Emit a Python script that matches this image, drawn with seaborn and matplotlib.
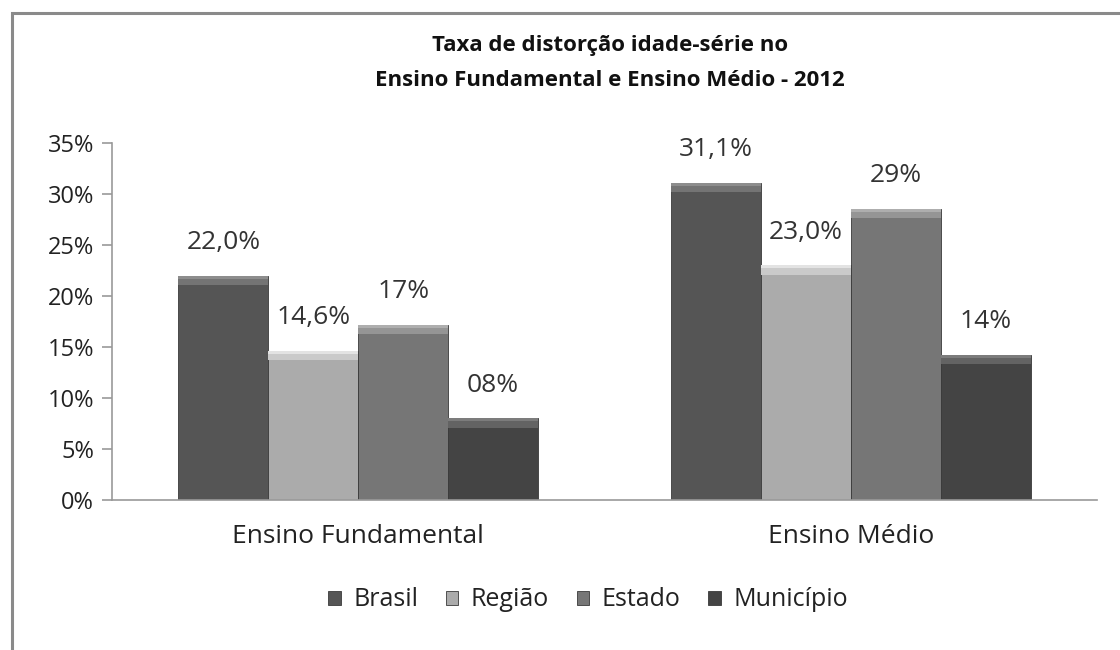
import matplotlib
matplotlib.use("Agg")
import matplotlib.pyplot as plt
import matplotlib.patches as mpatches
import seaborn as sns
import pandas as pd
import numpy as np

categories = ["Ensino Fundamental", "Ensino Médio"]
series = ["Brasil", "Região", "Estado", "Município"]
brasil = [22.0, 31.1]
regiao = [14.6, 23.0]
estado = [17.2, 28.5]
municipio = [8.0, 14.2]
labels = {
    "Brasil": ["22,0%", "31,1%"],
    "Região": ["14,6%", "23,0%"],
    "Estado": ["17%", "29%"],
    "Município": ["08%", "14%"],
}
colors = ["#555555", "#ababab", "#767676", "#444444"]
yticks = [0, 5, 10, 15, 20, 25, 30, 35]

rows = []
for s, vals in zip(series, [brasil, regiao, estado, municipio]):
    for c, v in zip(categories, vals):
        rows.append({"cat": c, "serie": s, "val": v})
df = pd.DataFrame(rows)

sns.set_style("white")
plt.rcParams["font.family"] = ["Open Sans", "DejaVu Sans"]

W, H = 1120, 650
fig = plt.figure(figsize=(11.2, 6.5), dpi=100)
ax = fig.add_axes([112/W, 1-500/H, (1097-112)/W, (500-143)/H])

sns.barplot(data=df, x="cat", y="val", hue="serie", order=categories,
            hue_order=series, palette=colors, width=0.73, ax=ax,
            saturation=1, edgecolor="#3a3a3a", linewidth=0.6, legend=True)

# value labels and bevel highlight derived from bars
for cont, s in zip(ax.containers, series):
    ax.bar_label(cont, labels=labels[s], padding=15, fontsize=19, color="#333333")
    for p in cont.patches:
        x0, w, h = p.get_x(), p.get_width(), p.get_height()
        fc = np.array(p.get_facecolor()[:3])
        ax.add_patch(mpatches.Rectangle((x0, h - 0.9), w, 0.9,
                                        facecolor=np.clip(fc + 0.12, 0, 1),
                                        edgecolor="none", zorder=3))
        ax.add_patch(mpatches.Rectangle((x0, h - 0.3), w, 0.3,
                                        facecolor=np.clip(fc + 0.22, 0, 1),
                                        edgecolor="none", zorder=3))

ax.set_ylim(0, 35)
ax.set_xlim(-0.5, 1.5)
ax.set_yticks(yticks)
ax.set_yticklabels([f"{t}%" for t in yticks], fontsize=17, color="#222222")
ax.set_xticks([0, 1])
ax.set_xticklabels(categories, fontsize=19, color="#222222")
ax.set_xticks([-0.5, 0.5, 1.5], minor=True)
ax.tick_params(axis="x", which="major", length=0, pad=17)
ax.tick_params(axis="x", which="minor", length=8, width=1.2, color="#999999", direction="out")
ax.tick_params(axis="y", length=7, width=1.2, color="#999999", direction="out", left=True, pad=6)
ax.set_xlabel("")
ax.set_ylabel("")
for sp in ["top", "right"]:
    ax.spines[sp].set_visible(False)
for sp in ["left", "bottom"]:
    ax.spines[sp].set_color("#999999")
    ax.spines[sp].set_linewidth(1.2)

leg = ax.legend(loc="center", bbox_to_anchor=(588/W, 1-600/H),
                bbox_transform=fig.transFigure, ncol=4, frameon=False,
                fontsize=18, handlelength=0.5, handleheight=0.5,
                handletextpad=0.5, columnspacing=1.1)
for t in leg.get_texts():
    t.set_color("#222222")

fig.text(610/W, 1-45/H, "Taxa de distorção idade-série no", ha="center", va="center",
         fontsize=16, fontweight="bold", color="#111111")
fig.text(610/W, 1-80/H, "Ensino Fundamental e Ensino Médio - 2012", ha="center", va="center",
         fontsize=16, fontweight="bold", color="#111111")

# outer frame
fig.add_artist(mpatches.Rectangle((12/W, -0.1), 1.2, 1-13/H+0.1,
                                  transform=fig.transFigure, fill=False,
                                  edgecolor="#8a8a8a", linewidth=2.2))

fig.savefig("out.png", dpi=100)
